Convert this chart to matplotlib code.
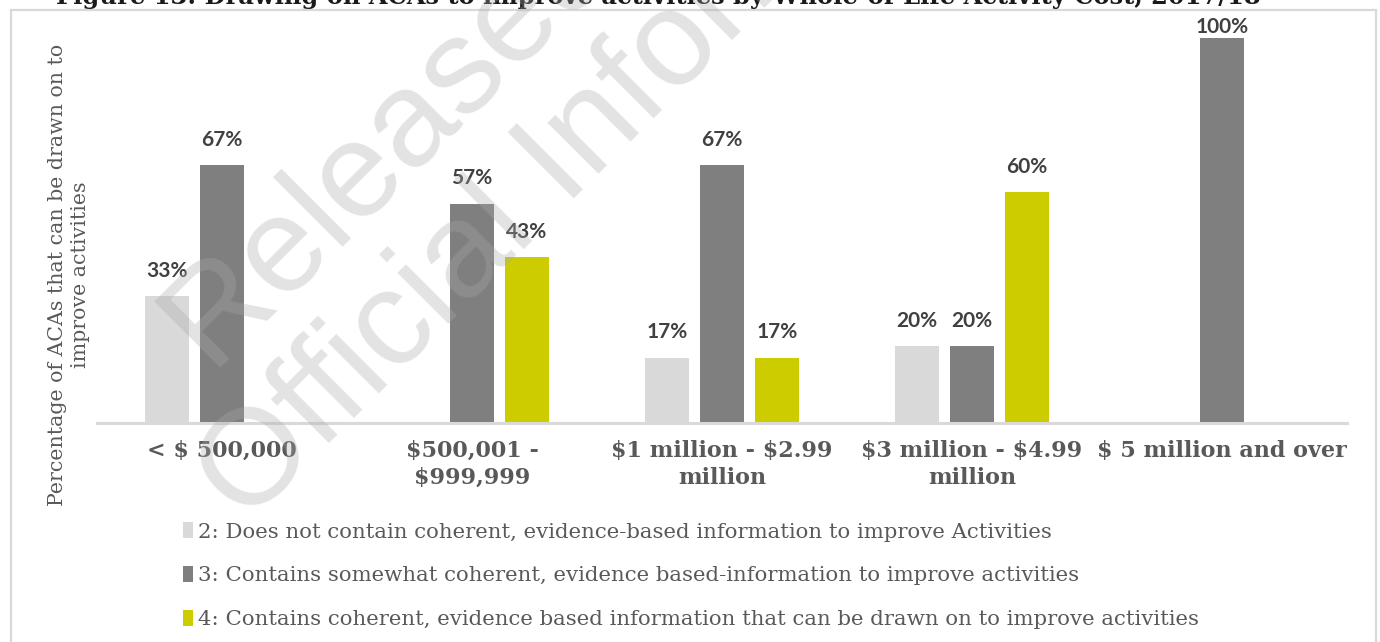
import matplotlib
matplotlib.use("Agg")
import matplotlib.pyplot as plt
from matplotlib.patches import Rectangle
import numpy as np

plt.rcParams["text.parse_math"] = False

categories = [
    "< $ 500,000",
    "$500,001 -\n$999,999",
    "$1 million - $2.99\nmillion",
    "$3 million - $4.99\nmillion",
    "$ 5 million and over",
]
series_names = [
    "2: Does not contain coherent, evidence-based information to improve Activities",
    "3: Contains somewhat coherent, evidence based-information to improve activities",
    "4: Contains coherent, evidence based information that can be drawn on to improve activities",
]
not_coherent = [33, 0, 17, 20, 0]
somewhat_coherent = [67, 57, 67, 20, 100]
coherent = [0, 43, 17, 60, 0]

title = "Figure 13: Drawing on ACAs to improve activities by Whole-of-Life Activity Cost, 2017/18"
y_label = "Percentage of ACAs that can be drawn on to\nimprove activities"
watermark_lines = ["Released under the", "Official Information Act"]

colors = ["#d9d9d9", "#7f7f7f", "#cccc00"]
text_grey = "#595959"
label_grey = "#404040"

W, H = 1380, 642
fig = plt.figure(figsize=(W / 100, H / 100), dpi=100)
ax = fig.add_axes([97 / W, 1 - 423 / H, 1250 / W, (423 - 38) / H])

x = np.arange(len(categories))
offset = 0.22
width = 0.176
y_max = 100
for i, (vals, col, name) in enumerate(zip([not_coherent, somewhat_coherent, coherent], colors, series_names)):
    pos = x + (i - 1) * offset
    ax.bar(pos, vals, width, color=col, label=name, zorder=2, linewidth=0)
    for xi, v in zip(pos, vals):
        if v > 0:
            # labels on full-height bars are tucked in close so they stay inside the frame
            gap = 1 if v >= y_max else 11
            ax.annotate(f"{v}%", (xi, v), xytext=(0, gap), textcoords="offset points",
                        ha="center", va="bottom", fontsize=15, fontweight="bold",
                        family="Lato", color=label_grey)

ax.set_xlim(-0.5, len(categories) - 0.5)
ax.set_ylim(0, y_max)
ax.set_yticks([])
ax.set_xticks(x)
ax.set_xticklabels(categories, fontsize=16, fontweight="bold", family="DejaVu Serif",
                   color=text_grey, linespacing=1.32)
ax.tick_params(axis="x", length=0, pad=12)
for side in ("left", "right", "top"):
    ax.spines[side].set_visible(False)
ax.spines["bottom"].set_color("#d9d9d9")
ax.spines["bottom"].set_linewidth(2.2)
ax.patch.set_visible(False)

fig.text(69 / W, 1 - 275 / H, y_label, rotation=90, ha="center", va="center",
         fontsize=14.8, family="DejaVu Serif", color=text_grey, linespacing=1.2)

leg = fig.legend(loc="upper left", bbox_to_anchor=(183 / W, 1 - 522 / H), frameon=False,
                 handlelength=0.45, handleheight=0.8, handletextpad=0.25, labelspacing=1.15,
                 borderaxespad=0, borderpad=0,
                 prop=dict(family="DejaVu Serif", size=15.3))
for t in leg.get_texts():
    t.set_color(text_grey)

# outer frame
fig.add_artist(Rectangle((11 / W, -0.1), (1376 - 11) / W, 1.1 - 10 / H,
                         transform=fig.transFigure, fill=False,
                         edgecolor="#d9d9d9", linewidth=1.6, clip_on=False))

# title, partly above the visible area
fig.text(658 / W, 1 - 4 / H, title, ha="center", va="baseline", fontsize=17.4,
         fontweight="bold", family="DejaVu Serif", color="#1a1a1a")

# diagonal watermark
for (px, py), line in zip([(609, -69), (702, 21)], watermark_lines):
    fig.text(px / W, 1 - py / H, line, rotation=45, rotation_mode="anchor",
             ha="center", va="center", fontsize=98, family="Liberation Sans",
             color="#a9a9a9", alpha=0.33, zorder=10)

fig.savefig("out.png", dpi=100)
